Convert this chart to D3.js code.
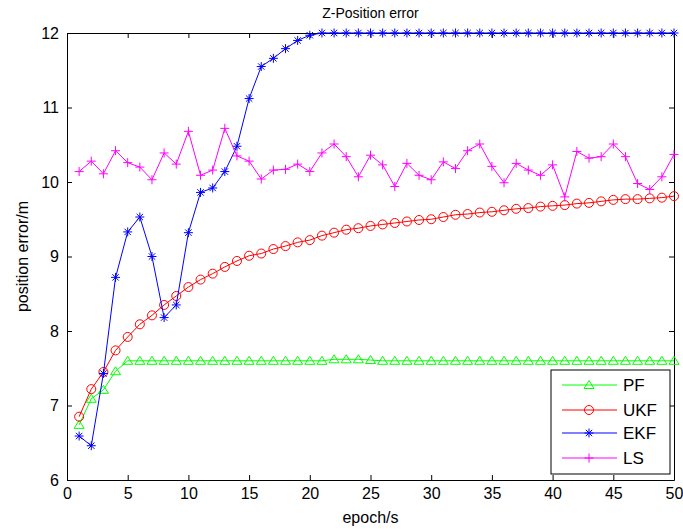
<!DOCTYPE html>
<html>
<head>
<meta charset="utf-8">
<script src="https://cdn.jsdelivr.net/npm/d3@7"></script>
<style>
  html, body { margin: 0; padding: 0; background: #fff; }
  svg text { font-family: "Liberation Sans", Arial, sans-serif; fill: #000; }
</style>
</head>
<body>
<script>
// data
const epochs = d3.range(1, 51);

const pf = [6.74, 7.09, 7.21, 7.46, 7.6, 7.6, 7.6, 7.6, 7.6, 7.6,
  7.6, 7.6, 7.6, 7.6, 7.6, 7.6, 7.6, 7.6, 7.6, 7.6,
  7.6, 7.62, 7.62, 7.62, 7.61, 7.6, 7.6, 7.6, 7.6, 7.6,
  7.6, 7.6, 7.6, 7.6, 7.6, 7.6, 7.6, 7.6, 7.6, 7.6,
  7.6, 7.6, 7.6, 7.6, 7.6, 7.6, 7.6, 7.6, 7.6, 7.6];

const ukf = [6.85, 7.22, 7.45, 7.74, 7.92, 8.09, 8.21, 8.35, 8.47, 8.59,
  8.69, 8.77, 8.86, 8.94, 9.01, 9.04, 9.1, 9.14, 9.19, 9.22,
  9.28, 9.32, 9.36, 9.38, 9.41, 9.43, 9.45, 9.47, 9.49, 9.5,
  9.53, 9.56, 9.57, 9.59, 9.6, 9.62, 9.64, 9.65, 9.67, 9.68,
  9.69, 9.71, 9.72, 9.74, 9.76, 9.77, 9.77, 9.78, 9.79, 9.81];

const ekf = [6.59, 6.46, 7.43, 8.72, 9.33, 9.53, 9.0, 8.18, 8.35, 9.32,
  9.86, 9.92, 10.14, 10.48, 11.12, 11.55, 11.66, 11.79, 11.9, 11.97,
  12, 12, 12, 12, 12, 12, 12, 12, 12, 12,
  12, 12, 12, 12, 12, 12, 12, 12, 12, 12,
  12, 12, 12, 12, 12, 12, 12, 12, 12, 12];

const ls = [10.14, 10.28, 10.11, 10.42, 10.26, 10.2, 10.03, 10.39, 10.24, 10.68,
  10.09, 10.16, 10.72, 10.35, 10.28, 10.04, 10.16, 10.17, 10.24, 10.14,
  10.39, 10.51, 10.34, 10.07, 10.36, 10.23, 9.94, 10.25, 10.09, 10.03,
  10.27, 10.18, 10.42, 10.51, 10.21, 9.99, 10.25, 10.16, 10.09, 10.23,
  9.8, 10.41, 10.32, 10.34, 10.51, 10.34, 9.98, 9.9, 10.07, 10.37];

const xTicks = [0, 5, 10, 15, 20, 25, 30, 35, 40, 45, 50];
const yTicks = [6, 7, 8, 9, 10, 11, 12];

const seriesNames = ["PF", "UKF", "EKF", "LS"];
const seriesColors = ["#00ff00", "#ff0000", "#0000ff", "#ff00ff"];
const seriesMarkers = ["triangle", "circle", "star", "plus"];

// layout
const w = 683, h = 529;
const m = { left: 67, right: 674, top: 33, bottom: 480 };

const svg = d3.select("body").append("svg").attr("width", w).attr("height", h);

const xScale = d3.scaleLinear().domain([0, 50]).range([m.left, m.right]);
const yScale = d3.scaleLinear().domain([6, 12]).range([m.bottom, m.top]);

// markers
function drawMarker(g, type, color) {
  if (type === "triangle") {
    g.append("path").attr("d", "M0,-4.5L5,3.5L-5,3.5Z")
      .attr("fill", "none").attr("stroke", color).attr("stroke-width", 1);
  } else if (type === "circle") {
    g.append("circle").attr("r", 4.5)
      .attr("fill", "none").attr("stroke", color).attr("stroke-width", 1);
  } else if (type === "star") {
    g.append("path").attr("d", "M-4.5,0H4.5M0,-4.5V4.5M-3.2,-3.2L3.2,3.2M-3.2,3.2L3.2,-3.2")
      .attr("stroke", color).attr("stroke-width", 1);
  } else {
    g.append("path").attr("d", "M-4.5,0H4.5M0,-4.5V4.5")
      .attr("stroke", color).attr("stroke-width", 1);
  }
}

// axes (box with ticks inside)
const fmt = d3.format("d");
const xAxisB = d3.axisBottom(xScale).tickValues(xTicks).tickFormat(fmt).tickSizeInner(-5).tickSizeOuter(0).tickPadding(8);
const xAxisT = d3.axisTop(xScale).tickValues(xTicks).tickSizeInner(-5).tickSizeOuter(0).tickFormat("");
const yAxisL = d3.axisLeft(yScale).tickValues(yTicks).tickFormat(fmt).tickSizeInner(-5).tickSizeOuter(0).tickPadding(8);
const yAxisR = d3.axisRight(yScale).tickValues(yTicks).tickSizeInner(-5).tickSizeOuter(0).tickFormat("");

const axes = [
  [xAxisB, `translate(0,${m.bottom})`],
  [xAxisT, `translate(0,${m.top})`],
  [yAxisL, `translate(${m.left},0)`],
  [yAxisR, `translate(${m.right},0)`],
];
axes.forEach(([ax, tr]) => {
  const g = svg.append("g").attr("transform", tr).call(ax);
  g.select(".domain").attr("stroke", "#000").attr("stroke-width", 1);
  g.selectAll(".tick line").attr("stroke", "#000");
  g.selectAll(".tick text").attr("font-size", 16).attr("font-family", "Liberation Sans, Arial, sans-serif");
});

// series
const plot = svg.append("g");
const allData = [pf, ukf, ekf, ls];
const line = d3.line().x((d, i) => xScale(epochs[i])).y((d) => yScale(d));

allData.forEach((vals, k) => {
  plot.append("path")
    .datum(vals)
    .attr("d", line)
    .attr("fill", "none")
    .attr("stroke", seriesColors[k])
    .attr("stroke-width", 1);
  vals.forEach((v, i) => {
    const g = plot.append("g").attr("transform", `translate(${xScale(epochs[i])},${yScale(v)})`);
    drawMarker(g, seriesMarkers[k], seriesColors[k]);
  });
});

// title and labels
svg.append("text").attr("x", (m.left + m.right) / 2).attr("y", 18)
  .attr("text-anchor", "middle").attr("font-size", 14).text("Z-Position error");
svg.append("text").attr("x", (m.left + m.right) / 2).attr("y", 523)
  .attr("text-anchor", "middle").attr("font-size", 16).text("epoch/s");
svg.append("text").attr("transform", `translate(28,${(m.top + m.bottom) / 2}) rotate(-90)`)
  .attr("text-anchor", "middle").attr("font-size", 16).text("position error/m");

// legend
const legend = svg.append("g");
legend.append("rect").attr("x", 551).attr("y", 370).attr("width", 119).attr("height", 104)
  .attr("fill", "#fff").attr("stroke", "#000").attr("stroke-width", 1);
const legendY = [385, 410, 433, 458];
seriesNames.forEach((name, k) => {
  const y = legendY[k];
  legend.append("line").attr("x1", 562).attr("x2", 617).attr("y1", y).attr("y2", y)
    .attr("stroke", seriesColors[k]).attr("stroke-width", 1);
  drawMarker(legend.append("g").attr("transform", `translate(589,${y})`), seriesMarkers[k], seriesColors[k]);
  legend.append("text").attr("x", 623).attr("y", y + 6).attr("font-size", 17).text(name);
});
</script>
</body>
</html>
